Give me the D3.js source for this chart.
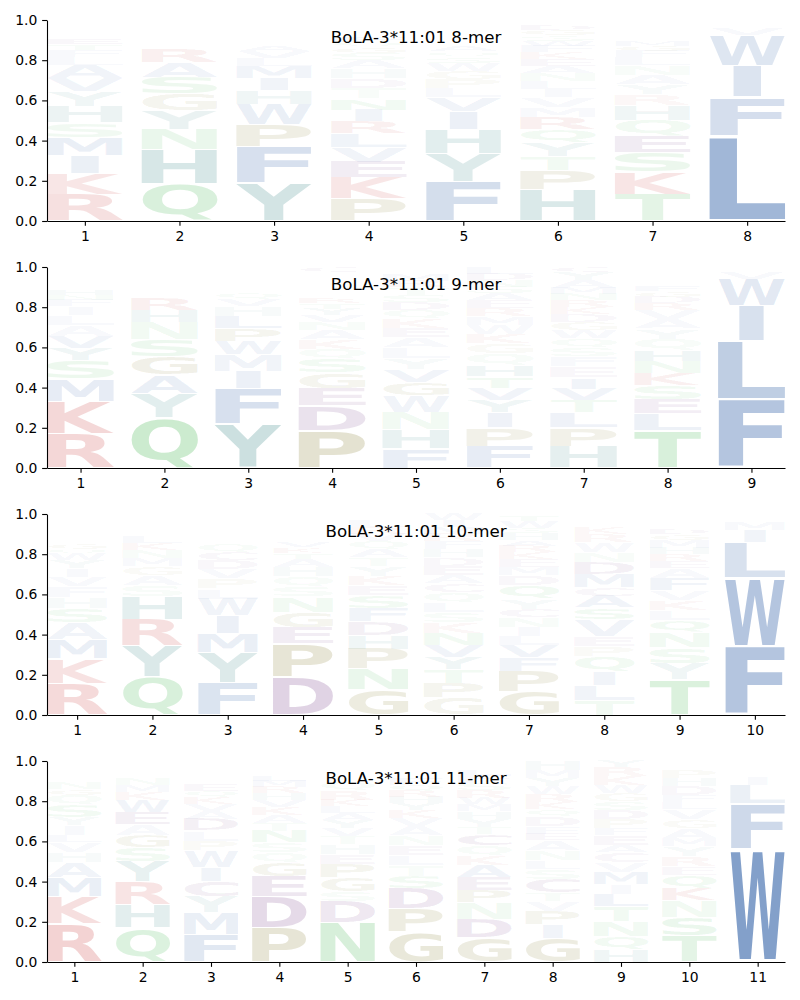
<!DOCTYPE html>
<html><head><meta charset="utf-8">
<script src="https://cdn.jsdelivr.net/npm/d3@7"></script>
<style>body{margin:0;background:#fff}</style>
</head><body><svg id="chart" width="800" height="1000"></svg>
<script>
const titles = ["BoLA-3*11:01 8-mer", "BoLA-3*11:01 9-mer", "BoLA-3*11:01 10-mer", "BoLA-3*11:01 11-mer"];
const yTicks = [0, 0.2, 0.4, 0.6, 0.8, 1.0];

// each column: [letter, probability] listed from bottom to top
const logo8 = [
  [["R",.134],["K",.104],["I",.09],["M",.089],["S",.071],["H",.083],["Y",.074],["V",.066],["A",.066],["L",.04],["F",.035],["T",.03],["E",.028],["N",.025],["Q",.022],["D",.015],["P",.012],["G",.01],["C",.004],["W",.002]],
  [["Q",.185],["H",.17],["N",.10],["Y",.092],["G",.085],["S",.082],["A",.075],["R",.07],["M",.025],["K",.02],["T",.018],["V",.015],["E",.015],["F",.012],["L",.01],["D",.01],["P",.008],["W",.004],["C",.002],["I",.002]],
  [["Y",.19],["F",.18],["P",.11],["W",.10],["H",.07],["I",.062],["M",.058],["L",.04],["V",.035],["A",.03],["Q",.02],["K",.018],["E",.015],["N",.015],["T",.012],["R",.012],["S",.01],["D",.01],["G",.008],["C",.005]],
  [["P",.11],["K",.105],["E",.078],["V",.075],["L",.066],["R",.06],["I",.058],["N",.057],["T",.052],["D",.05],["H",.048],["A",.04],["S",.035],["G",.03],["Q",.028],["F",.026],["M",.024],["Y",.022],["W",.018],["C",.018]],
  [["F",.195],["Y",.14],["H",.122],["I",.088],["V",.07],["L",.045],["P",.045],["G",.042],["W",.04],["S",.03],["Q",.028],["A",.026],["N",.024],["T",.022],["M",.02],["E",.018],["R",.016],["K",.014],["D",.01],["C",.005]],
  [["H",.158],["P",.096],["T",.07],["Y",.068],["Q",.064],["R",.062],["M",.05],["V",.048],["I",.042],["L",.04],["N",.038],["A",.036],["E",.034],["K",.032],["F",.03],["W",.028],["S",.026],["G",.03],["D",.028],["C",.02]],
  [["T",.134],["K",.11],["S",.096],["E",.083],["Q",.08],["H",.074],["R",.052],["Y",.05],["A",.048],["N",.046],["L",.04],["F",.03],["G",.028],["M",.026],["V",.024],["W",.022],["D",.02],["P",.016],["I",.012],["C",.009]],
  [["L",.425],["F",.193],["I",.155],["W",.15],["V",.035],["M",.015],["Y",.01],["A",.007],["C",.005],["T",.005]]
];
const logo9 = [
  [["R",.168],["K",.165],["M",.11],["S",.092],["Y",.062],["V",.06],["A",.055],["L",.05],["I",.042],["F",.03],["N",.028],["H",.026],["T",.024],["E",.022],["Q",.02],["G",.016],["D",.012],["P",.01],["C",.005],["W",.003]],
  [["Q",.252],["Y",.12],["A",.092],["G",.09],["S",.085],["N",.085],["H",.06],["R",.058],["K",.025],["M",.022],["T",.02],["E",.018],["L",.016],["F",.014],["V",.012],["D",.01],["P",.008],["W",.007],["C",.004],["I",.002]],
  [["Y",.217],["F",.18],["I",.085],["M",.083],["W",.065],["P",.063],["L",.062],["H",.05],["V",.035],["Q",.03],["A",.025],["K",.02],["E",.018],["N",.016],["T",.014],["S",.012],["R",.01],["G",.008],["D",.005],["C",.002]],
  [["P",.187],["D",.125],["E",.085],["G",.076],["S",.07],["Q",.05],["K",.048],["A",.045],["N",.04],["V",.035],["Y",.03],["T",.028],["R",.026],["H",.025],["L",.024],["F",.022],["I",.02],["M",.02],["W",.018],["C",.026]],
  [["F",.098],["H",.096],["N",.085],["W",.082],["G",.065],["V",.064],["Y",.055],["L",.054],["A",.05],["E",.048],["K",.045],["Q",.042],["D",.04],["S",.038],["T",.036],["R",.034],["M",.03],["P",.02],["I",.012],["C",.006]],
  [["F",.108],["P",.092],["I",.075],["Y",.063],["V",.06],["T",.058],["H",.057],["Q",.056],["G",.05],["K",.048],["W",.045],["M",.042],["R",.04],["E",.038],["A",.036],["S",.034],["N",.032],["D",.03],["L",.036]],
  [["H",.108],["P",.092],["L",.076],["T",.06],["V",.058],["I",.057],["E",.055],["F",.05],["S",.045],["Q",.045],["W",.04],["G",.04],["D",.038],["K",.036],["R",.034],["N",.032],["M",.03],["A",.04],["Y",.038],["C",.026]],
  [["T",.187],["L",.083],["E",.072],["S",.07],["K",.06],["N",.058],["H",.057],["Q",.056],["Y",.05],["A",.048],["V",.045],["R",.035],["D",.03],["G",.028],["F",.026],["M",.024],["P",.022],["I",.018],["W",.016],["C",.015]],
  [["F",.343],["L",.29],["I",.175],["W",.133],["V",.03],["M",.015],["Y",.008],["A",.006]]
];
const logo10 = [
  [["R",.158],["K",.123],["M",.095],["A",.083],["S",.07],["H",.056],["F",.055],["V",.047],["I",.042],["Y",.04],["W",.03],["Q",.028],["G",.026],["N",.025],["T",.024],["E",.022],["L",.022],["D",.02],["P",.018],["C",.016]],
  [["Q",.19],["Y",.153],["R",.133],["H",.113],["S",.056],["A",.05],["G",.045],["M",.04],["N",.038],["K",.036],["L",.032],["E",.025],["F",.022],["T",.02],["D",.015],["V",.012],["P",.01],["W",.006],["I",.004]],
  [["F",.162],["Y",.147],["M",.097],["I",.087],["W",.085],["L",.05],["P",.05],["V",.048],["D",.045],["C",.04],["Q",.038],["E",.025],["A",.022],["H",.02],["K",.018],["T",.016],["N",.015],["S",.013],["R",.012],["G",.01]],
  [["D",.19],["P",.167],["E",.08],["G",.076],["N",.075],["S",.052],["Q",.05],["H",.045],["A",.042],["T",.03],["K",.028],["V",.026],["Y",.024],["M",.022],["W",.02],["R",.018],["L",.016],["F",.015],["C",.012],["I",.012]],
  [["G",.125],["N",.103],["P",.1],["H",.07],["D",.068],["F",.066],["S",.062],["E",.05],["K",.048],["Y",.046],["T",.044],["A",.042],["Q",.04],["V",.038],["R",.034],["L",.03],["M",.02],["W",.008],["C",.006]],
  [["G",.085],["P",.075],["T",.065],["Y",.064],["V",.06],["N",.058],["K",.052],["S",.051],["L",.05],["Q",.048],["C",.045],["A",.043],["E",.045],["D",.043],["H",.041],["F",.039],["R",.037],["M",.035],["I",.033],["W",.031]],
  [["G",.117],["P",.1],["F",.07],["V",.058],["L",.045],["I",.045],["N",.05],["C",.042],["Y",.05],["Q",.07],["D",.05],["M",.04],["E",.04],["K",.035],["R",.03],["A",.03],["H",.03],["S",.028],["W",.035],["T",.03]],
  [["T",.075],["L",.075],["I",.067],["Q",.075],["P",.05],["E",.05],["V",.083],["S",.058],["A",.058],["C",.042],["M",.067],["D",.058],["N",.05],["W",.05],["R",.04],["K",.03],["H",.025],["F",.022],["G",.012],["Y",.008]],
  [["T",.175],["Y",.083],["S",.08],["N",.075],["Q",.058],["L",.05],["K",.05],["V",.05],["F",.058],["A",.05],["E",.035],["R",.035],["H",.03],["M",.04],["G",.03],["D",.028],["P",.025],["W",.02],["I",.016],["C",.012]],
  [["F",.342],["W",.342],["L",.175],["I",.058],["M",.042],["V",.02],["Y",.011],["A",.01]]
];
const logo11 = [
  [["R",.19],["K",.137],["M",.092],["A",.078],["H",.05],["V",.05],["L",.035],["I",.048],["Y",.04],["S",.06],["Q",.05],["G",.03],["N",.03],["T",.025],["E",.025],["D",.02],["F",.02],["P",.015],["W",.005],["C",.005]],
  [["Q",.17],["H",.117],["R",.115],["Y",.1],["S",.07],["G",.06],["A",.055],["E",.058],["W",.058],["K",.04],["M",.035],["N",.03],["T",.025],["L",.02],["F",.018],["D",.015],["P",.01],["V",.004]],
  [["F",.137],["M",.108],["Y",.083],["C",.075],["I",.067],["W",.083],["P",.05],["L",.05],["D",.058],["A",.04],["V",.035],["K",.035],["Q",.03],["E",.03],["T",.025],["N",.025],["S",.015],["R",.014],["G",.02],["H",.02]],
  [["P",.17],["D",.157],["E",.1],["G",.067],["Q",.05],["S",.05],["N",.058],["T",.04],["A",.04],["K",.038],["V",.035],["H",.033],["R",.03],["M",.03],["L",.028],["Y",.025],["F",.02],["W",.015],["C",.01],["I",.004]],
  [["N",.195],["D",.108],["S",.05],["G",.067],["P",.067],["E",.05],["H",.05],["T",.04],["V",.04],["Y",.04],["A",.035],["L",.035],["K",.03],["R",.045],["Q",.045],["M",.025],["F",.025],["I",.02],["W",.015],["C",.008]],
  [["G",.15],["P",.117],["D",.1],["S",.06],["T",.055],["L",.05],["E",.05],["N",.048],["A",.045],["V",.04],["K",.04],["Y",.035],["H",.03],["R",.03],["Q",.03],["F",.03],["M",.025],["W",.025],["I",.02],["C",.02]],
  [["G",.12],["D",.092],["N",.083],["P",.06],["E",.067],["A",.058],["K",.05],["Q",.05],["C",.058],["T",.035],["Y",.04],["H",.035],["M",.035],["W",.03],["R",.04],["S",.038],["F",.038],["L",.026],["V",.025],["I",.02]],
  [["G",.12],["I",.067],["P",.067],["V",.05],["T",.042],["C",.067],["S",.05],["L",.042],["N",.05],["A",.05],["E",.033],["F",.035],["D",.05],["Q",.035],["K",.035],["R",.04],["W",.04],["Y",.04],["M",.04],["H",.047]],
  [["H",.062],["Q",.067],["N",.075],["T",.075],["L",.058],["I",.05],["M",.058],["V",.05],["C",.05],["A",.035],["E",.05],["F",.035],["P",.045],["D",.045],["S",.045],["G",.04],["W",.04],["K",.045],["R",.045],["Y",.03]],
  [["T",.132],["S",.092],["N",.083],["K",.058],["Q",.067],["E",.042],["R",.05],["Y",.05],["M",.042],["A",.05],["G",.042],["V",.05],["L",.035],["F",.035],["D",.045],["H",.04],["P",.04],["I",.02],["W",.015],["C",.012]],
  [["W",.562],["F",.225],["L",.092],["I",.042],["M",.02],["V",.01],["Y",.008]]
];
const logos = [logo8, logo9, logo10, logo11];

// amino acid color groups
const groupColor = {
  red: "rgb(190,20,20)", purple: "rgb(90,20,110)", green: "rgb(50,175,65)",
  olive: "rgb(110,100,10)", teal: "rgb(20,112,112)", blue: "rgb(34,85,160)"
};
const colorOf = {R:"red",K:"red",D:"purple",E:"purple",C:"purple",Q:"green",N:"green",S:"green",T:"green",
  G:"olive",P:"olive",H:"teal",Y:"teal",A:"blue",F:"blue",I:"blue",L:"blue",M:"blue",V:"blue",W:"blue"};

const FONT_FAMILY = "DejaVu Sans";
const canvas = document.createElement("canvas");
const ctx = canvas.getContext("2d");
ctx.font = 'bold 100px "DejaVu Sans"';
const metricCache = {};
function metrics(ch) {
  if (!metricCache[ch]) {
    const m = ctx.measureText(ch);
    metricCache[ch] = {l: -m.actualBoundingBoxLeft, r: m.actualBoundingBoxRight,
                       t: -m.actualBoundingBoxAscent, b: m.actualBoundingBoxDescent};
  }
  return metricCache[ch];
}
const mE = metrics("E");
const widthE = mE.r - mE.l;

const svg = d3.select("#chart");
const left = 47, right = 785, panelH = 201, vpad = 0.05, colWidth = 0.8;
const tickLen = 4.86, tickPad = 4.86;

logos.forEach((cols, i) => {
  const top = 20 + i * 247;
  const n = cols.length;
  const x = d3.scaleLinear().domain([0.6, n + 0.4]).range([left, right]);
  const y = d3.scaleLinear().domain([0, 1]).range([top + panelH, top]);
  const g = svg.append("g");

  cols.forEach((col, j) => {
    let cum = 0;
    const pos = j + 1;
    col.forEach(([ch, p]) => {
      const yb = y(cum), yt = y(cum + p);
      cum += p;
      const bx0 = x(pos - colWidth / 2), bx1 = x(pos + colWidth / 2);
      const m = metrics(ch);
      const gw = m.r - m.l, gh = m.b - m.t;
      const sx = (bx1 - bx0) / Math.max(gw, widthE);
      const sy = (yb - yt) * (1 - vpad) / gh;
      const cx = (bx0 + bx1) / 2, cy = (yb + yt) / 2;
      g.append("text")
        .text(ch)
        .attr("font-family", FONT_FAMILY)
        .attr("font-weight", "bold")
        .attr("font-size", 100)
        .attr("transform", `translate(${cx - sx * (m.l + gw / 2)},${cy - sy * (m.t + gh / 2)}) scale(${sx},${sy})`)
        .attr("fill", groupColor[colorOf[ch]])
        .attr("fill-opacity", Math.min(1, p));
    });
  });

  const ax = svg.append("g").attr("transform", `translate(${left},0)`)
    .call(d3.axisLeft(y).tickValues(yTicks).tickFormat(d3.format(".1f")).tickSize(tickLen).tickPadding(tickPad).tickSizeOuter(0));
  const bx = svg.append("g").attr("transform", `translate(0,${top + panelH})`)
    .call(d3.axisBottom(x).tickValues(d3.range(1, n + 1)).tickFormat(d3.format("d")).tickSize(tickLen).tickPadding(tickPad).tickSizeOuter(0));
  [ax, bx].forEach(a => {
    a.attr("font-family", FONT_FAMILY).attr("font-size", 13.9);
    a.selectAll("path,line").attr("stroke", "#000").attr("stroke-width", 1.1);
    a.selectAll("text").attr("fill", "#000");
  });

  svg.append("text")
    .attr("x", (left + right) / 2).attr("y", top + 23)
    .attr("text-anchor", "middle")
    .attr("font-family", FONT_FAMILY).attr("font-size", 16.67)
    .attr("fill", "#000")
    .text(titles[i]);
});
</script></body></html>
